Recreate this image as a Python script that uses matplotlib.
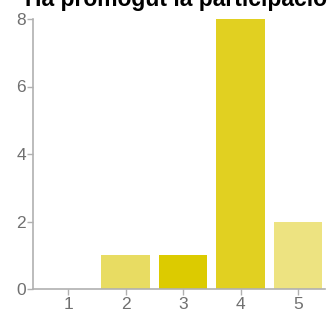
import matplotlib
matplotlib.use("Agg")
import matplotlib.pyplot as plt

# answers on a 1-5 scale and how many people picked each one
categories = [1, 2, 3, 4, 5]
counts = [0, 1, 1, 8, 2]
bar_colors = ['#e6d84f', '#e8dc62', '#dccb00', '#e1d021', '#ede381']
title = "Ha promogut la participació"

plt.rcParams['font.family'] = ['Liberation Sans', 'DejaVu Sans']

fig = plt.figure(figsize=(3.3, 3.16), dpi=100)
ax = fig.add_axes([33 / 330, 27 / 316, 292 / 330, 270 / 316])

ax.bar(categories, counts, width=0.85, color=bar_colors)

ax.set_xlim(0.39, 5.47)
ax.set_ylim(0, 8)
ax.set_xticks(categories)
ax.set_yticks([0, 2, 4, 6, 8])

for side in ['top', 'right']:
    ax.spines[side].set_visible(False)
for side in ['left', 'bottom']:
    ax.spines[side].set_color('#b0b0b0')
    ax.spines[side].set_linewidth(1.2)

ax.tick_params(colors='#b0b0b0', labelcolor='#707070', labelsize=12.5,
               length=4, width=1)
ax.tick_params(axis='y', pad=1)
ax.tick_params(axis='x', pad=2)

# title sits mostly above the picture, only its lower part shows
fig.text(25 / 330, 1 - 6 / 316, title, fontsize=16.5, fontweight='bold',
         color='black', ha='left', va='baseline')

fig.savefig('out.png', dpi=100)
